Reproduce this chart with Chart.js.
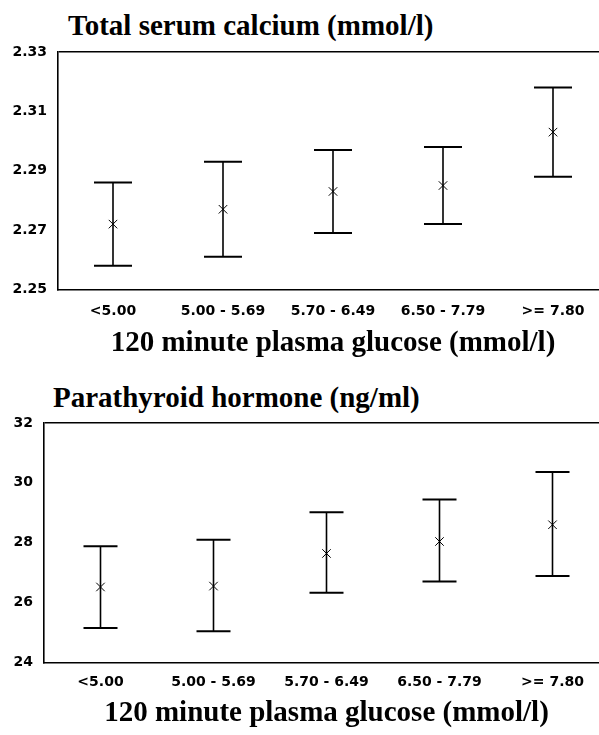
<!DOCTYPE html>
<html>
<head>
<meta charset="utf-8">
<script src="https://cdn.jsdelivr.net/npm/chart.js@4.4.1/dist/chart.umd.min.js"></script>
<style>
  html, body { margin: 0; padding: 0; width: 599px; height: 735px; overflow: hidden; background: #fff; }
  .ttl { position: absolute; font: bold 29px "Liberation Serif", "Times New Roman", serif; line-height: 29px; color: #000; white-space: nowrap; }
  canvas { position: absolute; left: 0; }
</style>
</head>
<body>
<div class="ttl" id="t1" style="left:68px; top:11px;">Total serum calcium (mmol/l)</div>
<canvas id="cCa" width="608" height="370" style="top:0px;"></canvas>
<div class="ttl" id="t2" style="left:53px; top:383px;">Parathyroid hormone (ng/ml)</div>
<canvas id="cPth" width="609" height="365" style="top:370px;"></canvas>
<script>
// categories (120 min plasma glucose groups)
const glucoseGroups = ["<5.00", "5.00 - 5.69", "5.70 - 6.49", "6.50 - 7.79", ">= 7.80"];
const xTitle = "120 minute plasma glucose (mmol/l)";

// total serum calcium, mean and interval
const calciumMean = [2.272, 2.277, 2.283, 2.285, 2.303];
const calciumLow  = [2.258, 2.261, 2.269, 2.272, 2.288];
const calciumHigh = [2.286, 2.293, 2.297, 2.298, 2.318];
const calciumTicks = [2.25, 2.27, 2.29, 2.31, 2.33];

// parathyroid hormone, mean and interval
const pthMean = [26.52, 26.55, 27.64, 28.04, 28.60];
const pthLow  = [25.15, 25.04, 26.33, 26.70, 26.89];
const pthHigh = [27.88, 28.10, 29.02, 29.44, 30.36];
const pthTicks = [24, 26, 28, 30, 32];

const tickFont = { family: "DejaVu Sans", size: 14, weight: "bold" };
const titleFont = { family: "Liberation Serif", size: 29, weight: "bold" };

function errorSets(low, high, capR){
  return glucoseGroups.map((g, i) => ({
    type: "line",
    data: [{ x: g, y: low[i] }, { x: g, y: high[i] }],
    borderColor: "#000",
    borderWidth: 1.6,
    pointStyle: "line",
    pointRadius: capR,
    pointHoverRadius: capR,
    pointBorderColor: "#000",
    pointBorderWidth: 2,
    order: 2
  }));
}

function meanSet(mean){
  return {
    type: "line",
    data: glucoseGroups.map((g, i) => ({ x: g, y: mean[i] })),
    showLine: false,
    pointStyle: "crossRot",
    pointRadius: 6,
    pointBorderColor: "#000",
    pointBorderWidth: 1,
    order: 1
  };
}

function makeChart(el, o){
  const tickVals = o.ticks;
  const yMin = tickVals[0], yMax = tickVals[tickVals.length - 1];
  return new Chart(el, {
    type: "line",
    data: {
      labels: glucoseGroups,
      datasets: [...errorSets(o.low, o.high, o.capR), meanSet(o.mean)]
    },
    options: {
      responsive: false,
      animation: false,
      layout: { autoPadding: false, padding: { top: o.padTop, left: 0, right: 0, bottom: 0 } },
      plugins: { legend: { display: false }, tooltip: { enabled: false } },
      scales: {
        x: {
          type: "category",
          offset: true,
          grid: { display: false, drawTicks: false },
          border: { display: true, color: "#000", width: 1.6 },
          ticks: { color: "#000", font: tickFont, padding: o.xPad, maxRotation: 0, autoSkip: false },
          title: { display: true, text: xTitle, color: "#000", font: titleFont,
                   padding: { top: o.tTop, bottom: o.tBot } }
        },
        y: {
          min: yMin, max: yMax,
          afterBuildTicks: (s) => { s.ticks = tickVals.map(v => ({ value: v })); },
          afterFit: (s) => { s.width = o.yWidth; },
          grid: {
            drawTicks: false,
            lineWidth: 1.6,
            color: (c) => (c.tick && c.tick.value === yMax) ? "#000" : "rgba(0,0,0,0)"
          },
          border: { display: true, color: "#000", width: 1.6 },
          ticks: { color: "#000", font: tickFont, padding: 11,
                   callback: (v) => o.fmt(v) }
        }
      }
    }
  });
}

makeChart(document.getElementById("cCa"), {
  low: calciumLow, high: calciumHigh, mean: calciumMean, ticks: calciumTicks,
  capR: 19, padTop: 52, xPad: 14, tTop: -8, tBot: 9, yWidth: 58,
  fmt: (v) => Number(v).toFixed(2)
});

makeChart(document.getElementById("cPth"), {
  low: pthLow, high: pthHigh, mean: pthMean, ticks: pthTicks,
  capR: 17, padTop: 53, xPad: 12, tTop: -7, tBot: 4, yWidth: 44,
  fmt: (v) => String(v)
});
</script>
</body>
</html>
